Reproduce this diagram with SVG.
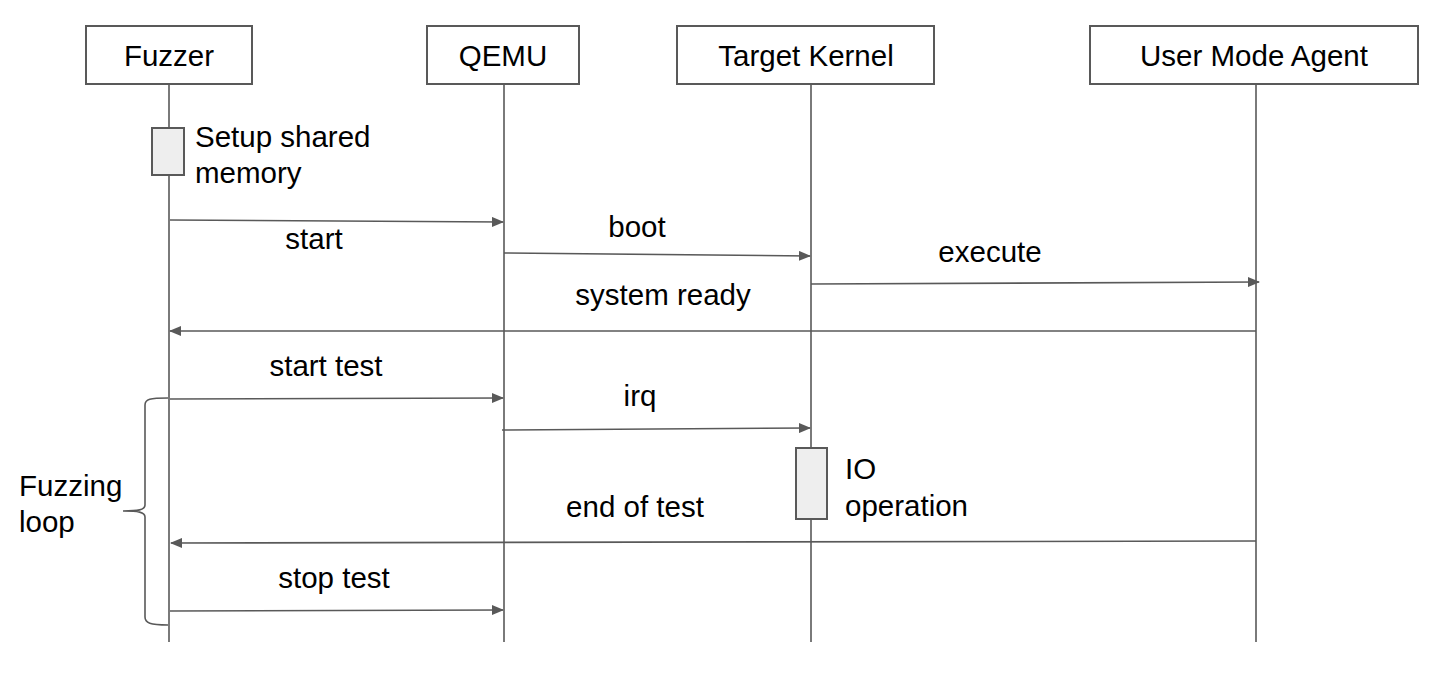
<svg xmlns="http://www.w3.org/2000/svg" width="1433" height="678" viewBox="0 0 1433 678">
<defs>
<marker id="ah" markerWidth="12" markerHeight="10" refX="11" refY="5" orient="auto" markerUnits="userSpaceOnUse">
<path d="M0,0 L12,5 L0,10 Z" fill="#595959"/>
</marker>
<style>
text{font-family:"Liberation Sans",Arial,sans-serif;font-size:29.5px;fill:#000}
.c{text-anchor:middle}
.box{fill:#fff;stroke:#595959;stroke-width:2}
.act{fill:#eeeeee;stroke:#595959;stroke-width:2}
.life{stroke:#595959;stroke-width:1.6;fill:none}
.msg{stroke:#595959;stroke-width:1.6;fill:none;marker-end:url(#ah)}
</style>
</defs>
<rect width="1433" height="678" fill="#fff"/>
<g id="lifelines">
<line class="life" x1="169" y1="84" x2="169" y2="642"/>
<line class="life" x1="504" y1="84" x2="504" y2="642"/>
<line class="life" x1="811" y1="84" x2="811" y2="642"/>
<line class="life" x1="1256" y1="84" x2="1256" y2="642"/>
</g>
<g id="fuzzer"><rect class="box" x="86" y="26" width="166" height="58"/><text class="c" x="169" y="66">Fuzzer</text></g>
<g id="qemu"><rect class="box" x="427" y="26" width="152" height="58"/><text class="c" x="503" y="66">QEMU</text></g>
<g id="kernel"><rect class="box" x="677" y="26" width="257" height="58"/><text class="c" x="806" y="66">Target Kernel</text></g>
<g id="agent"><rect class="box" x="1090" y="26" width="328" height="58"/><text class="c" x="1254" y="66">User Mode Agent</text></g>
<g id="setup"><rect class="act" x="152" y="128" width="32" height="47"/><text x="195" y="147">Setup shared</text><text x="195" y="183">memory</text></g>
<g id="io"><rect class="act" x="796" y="448" width="31" height="71"/><text x="845" y="479">IO</text><text x="845" y="516">operation</text></g>
<g id="loop"><path class="life" d="M168,398 C150,398 145,399 145,405 L145,505 C145,510 138,511 123,511 C138,511 145,512 145,517 L145,617 C145,623 150,625 168,625"/><text x="19" y="496">Fuzzing</text><text x="19" y="532">loop</text></g>
<g id="connectors">
<line class="msg" x1="170" y1="220" x2="503" y2="222"/>
<line class="msg" x1="504" y1="253" x2="810" y2="256"/>
<line class="msg" x1="811" y1="284" x2="1259" y2="282"/>
<line class="msg" x1="1256" y1="331" x2="170" y2="331"/>
<line class="msg" x1="170" y1="399" x2="503" y2="398"/>
<line class="msg" x1="502" y1="430" x2="810" y2="428"/>
<line class="msg" x1="1256" y1="541" x2="171" y2="543"/>
<line class="msg" x1="170" y1="611" x2="503" y2="610"/>
</g>
<g id="labels">
<text class="c" x="314" y="249">start</text>
<text class="c" x="637" y="237">boot</text>
<text class="c" x="990" y="262">execute</text>
<text class="c" x="663" y="305">system ready</text>
<text class="c" x="326" y="376">start test</text>
<text class="c" x="640" y="406">irq</text>
<text class="c" x="635" y="517">end of test</text>
<text class="c" x="334" y="588">stop test</text>
</g>
</svg>
